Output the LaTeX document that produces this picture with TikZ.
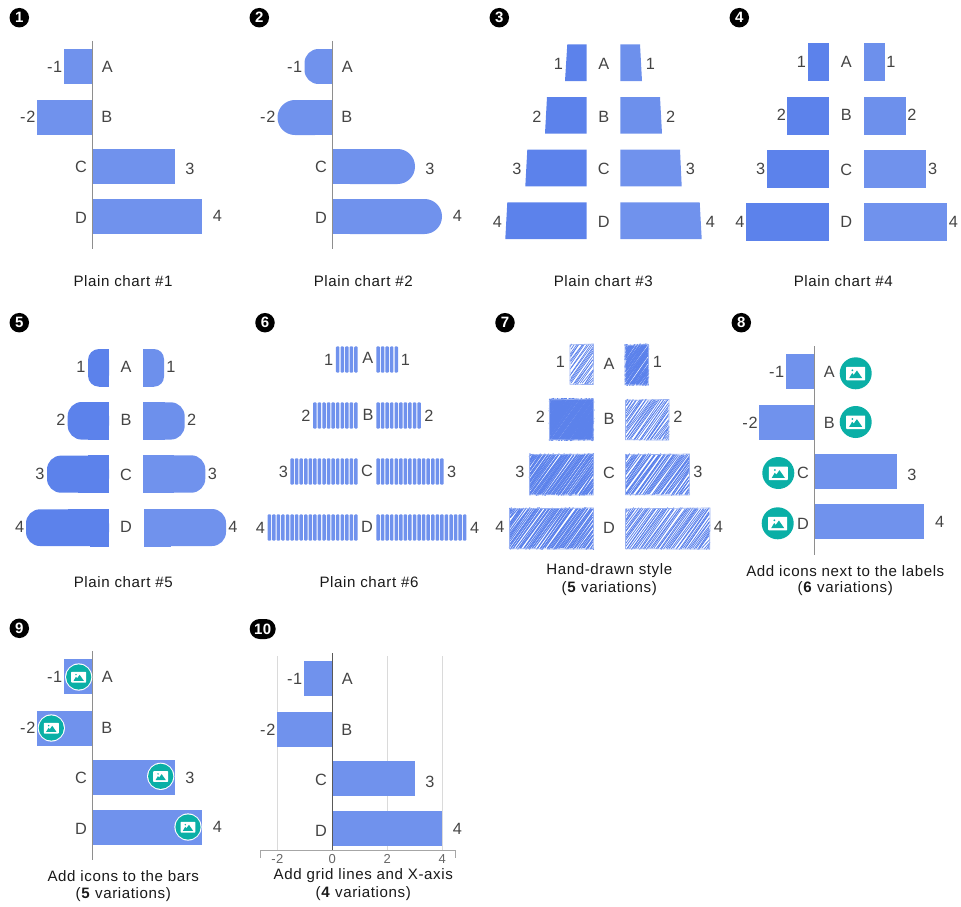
\documentclass[tikz,border=0pt]{standalone}
\usepackage{fontspec}
\setmainfont[LetterSpace=4]{Liberation Sans}
\definecolor{barblue}{HTML}{7092ED}
\definecolor{leftblue}{HTML}{5C82EB}
\definecolor{rightblue}{HTML}{6D90EC}
\definecolor{teal}{HTML}{0AAFA6}
\definecolor{labgray}{HTML}{444444}
\definecolor{axisgray}{HTML}{8E8E8E}
\definecolor{gridgray}{HTML}{DADADA}
\newcounter{nn}
\tikzset{
  lbl/.style={text=labgray,inner sep=0pt,font=\fontsize{16.3}{17}\selectfont},
  captext/.style={text=black!90,inner sep=0pt,font=\fontsize{15.1}{16}\selectfont},
  badge/.style={circle,fill=black,text=white,inner sep=0pt,minimum size=19.5pt,font=\fontsize{15}{15}\selectfont\bfseries},
  widebadge/.style={rounded corners=10pt,fill=black,text=white,inner sep=0pt,minimum width=26pt,minimum height=20pt,font=\fontsize{15}{15}\selectfont\bfseries},
  axisline/.style={draw=axisgray,line width=1pt},
  gridline/.style={draw=gridgray,line width=1pt},
  ticklab/.style={text=black!60,inner sep=0pt,font=\fontsize{13}{13}\selectfont}
}
\newcommand{\lab}[3]{\stepcounter{nn}\node[lbl] (t\thenn) at (#1,#2) {#3};}
\newcommand{\captxt}[3]{\stepcounter{nn}\node[captext] (c\thenn) at (#1,#2) {#3};}
\newcommand{\bdg}[3]{\stepcounter{nn}\node[badge] (b\thenn) at (#1,#2) {#3};}
\newcommand{\brect}[5][barblue]{\fill[#1] (#2,#3) rectangle (#4,#5);}
\newcommand{\roundbar}[6]{%
  \fill[#6,rounded corners=#5pt] (#1,#3) rectangle (#2,#4);
  \pgfmathsetmacro{\midx}{(#1+#2)/2}
  \fill[#6] (#1,#3) rectangle (\midx,#4);}
\newcommand{\stripes}[6]{% start edge, direction, count, y1, y2, colour
  \foreach \i in {1,...,#3}{
    \pgfmathsetmacro{\xa}{#1+#2*(\i-1)*4.56}
    \pgfmathsetmacro{\xb}{\xa+#2*3.5}
    \fill[#6,rounded corners=1pt] (\xa,#4) rectangle (\xb,#5);
  }}
\newcommand{\picon}[4]{% x y r white-border
  \begin{scope}[shift={(#1,#2)}]
    \pgfmathsetmacro{\iconscale}{#3/16}
    \ifdim #4pt>0pt \fill[white] (0,0) circle ({#3+#4}); \fi
    \fill[teal] (0,0) circle (#3);
    \begin{scope}[scale=\iconscale]
      \fill[white,rounded corners=0.6pt] (-9.5,-6.5) rectangle (9.5,7);
      \fill[teal] (-6.5,4.8) -- (-3.5,-0.3) -- (-2,1.6) -- (1.2,-2.8) -- (6.5,4.8) -- cycle;
      \fill[teal] (-3.4,-3) circle (1);
    \end{scope}
  \end{scope}}
\newcommand{\scribble}[6]{% x1 y1 x2 y2 spacing width
  \pgfmathsetmacro{\hh}{#4-#2}
  \pgfmathsetmacro{\dd}{\hh*0.72}
  \pgfmathtruncatemacro{\NN}{(#3-#1+\dd)/#5}
  \foreach \i in {0,...,\NN}{
    \pgfmathsetmacro{\tval}{#1-\dd+\i*#5+rand*#5*0.5}
    \pgfmathsetmacro{\sx}{max(\tval,#1)}
    \pgfmathsetmacro{\sy}{#4-(\sx-\tval)*\hh/\dd+rand*0.9}
    \pgfmathsetmacro{\ex}{min(\tval+\dd,#3)}
    \pgfmathsetmacro{\ey}{#2+(\tval+\dd-\ex)*\hh/\dd+rand*0.9}
    \pgfmathsetmacro{\jx}{\sx+rand*0.7}
    \pgfmathsetmacro{\kx}{\ex+rand*0.7}
    \draw[leftblue,line width=#6pt,line cap=round] (\jx,\sy) -- (\kx,\ey);
  }
  \draw[rightblue!70,line width=0.7pt] (#1-0.5,#2+0.4) -- (#3+0.6,#2-0.5) -- (#3+0.2,#4+0.6) -- (#1-0.6,#4+0.2) -- cycle;
}
\begin{document}
\begin{tikzpicture}[x=1pt,y=-1pt]
\useasboundingbox (0,0) rectangle (961,907);
\pgfmathsetseed{11}
% badges
\bdg{19.3}{17.7}{1}\bdg{259.3}{17.7}{2}\bdg{499.3}{17.7}{3}\bdg{739.3}{17.7}{4}
\bdg{19.3}{322.7}{5}\bdg{265}{322.7}{6}\bdg{505}{322.7}{7}\bdg{741.3}{322.7}{8}
\bdg{19.3}{628.3}{9}
\node[widebadge] (b10) at (262.7,629) {10};
% ---------- chart 1
\brect{64}{49}{92.5}{84}\brect{37}{100}{92.5}{135}\brect{92.5}{149}{175}{184}\brect{92.5}{199}{202}{234}
\draw[axisline] (92.5,41) -- (92.5,249);
\lab{54.7}{66.5}{-1}\lab{27.8}{117}{-2}\lab{107.3}{66.5}{A}\lab{106.7}{117}{B}\lab{81}{167}{C}\lab{81}{218}{D}\lab{190}{169}{3}\lab{217.5}{216}{4}
\captxt{123}{280.7}{Plain chart \#1}
% ---------- chart 2
\roundbar{332.5}{304.5}{49}{84}{14}{barblue}
\roundbar{332.5}{277.5}{100}{135}{17.4}{barblue}
\roundbar{332.5}{415}{149}{184}{17.4}{barblue}
\roundbar{332.5}{442}{199}{234}{17.4}{barblue}
\draw[axisline] (332.5,41) -- (332.5,249);
\lab{294.7}{66.5}{-1}\lab{267.8}{117}{-2}\lab{347.3}{66.5}{A}\lab{346.7}{117}{B}\lab{321}{167}{C}\lab{321}{218}{D}\lab{430}{169}{3}\lab{457.5}{216}{4}
\captxt{363.3}{280.7}{Plain chart \#2}
% ---------- chart 3
\fill[leftblue] (567.3,44.3) -- (586.7,44.3) -- (586.7,81) -- (565,81) -- cycle;
\fill[leftblue] (547,97) -- (586.7,97) -- (586.7,133.7) -- (545,133.7) -- cycle;
\fill[leftblue] (527.3,149.7) -- (586.7,149.7) -- (586.7,186.3) -- (525.3,186.3) -- cycle;
\fill[leftblue] (507.3,202.3) -- (586.7,202.3) -- (586.7,239) -- (505.3,239) -- cycle;
\fill[rightblue] (620.3,44.3) -- (640,44.3) -- (642,81) -- (620.3,81) -- cycle;
\fill[rightblue] (620.3,97) -- (660,97) -- (662,133.7) -- (620.3,133.7) -- cycle;
\fill[barblue] (620.3,149.7) -- (680,149.7) -- (681.7,186.3) -- (620.3,186.3) -- cycle;
\fill[barblue] (620.3,202.3) -- (699.7,202.3) -- (701.7,239) -- (620.3,239) -- cycle;
\lab{558.3}{64}{1}\lab{537}{116.5}{2}\lab{517}{169}{3}\lab{497.3}{221.7}{4}
\lab{603.7}{64}{A}\lab{603.7}{116.5}{B}\lab{603.7}{169}{C}\lab{603.7}{221.7}{D}
\lab{650.3}{64}{1}\lab{670.7}{116.5}{2}\lab{690.3}{169}{3}\lab{710.3}{221.7}{4}
\captxt{603.3}{280.7}{Plain chart \#3}
% ---------- chart 4
\brect[leftblue]{808}{43}{829}{81}\brect[leftblue]{787}{97}{829}{135}\brect[leftblue]{767}{150}{829}{188}\brect[leftblue]{746}{203}{829}{241}
\brect[rightblue]{864}{43}{885}{81}\brect[rightblue]{864}{97}{906}{135}\brect{864}{150}{926}{188}\brect{864}{203}{947}{241}
\lab{801.3}{62}{1}\lab{781.3}{115}{2}\lab{760.7}{168.7}{3}\lab{740}{222}{4}
\lab{846.3}{62}{A}\lab{846.3}{115}{B}\lab{846.3}{169.7}{C}\lab{846.3}{222}{D}
\lab{891}{62}{1}\lab{912}{115}{2}\lab{932.7}{168.7}{3}\lab{953.3}{222}{4}
\captxt{843.3}{280.7}{Plain chart \#4}
% ---------- chart 5
\roundbar{109}{88}{349}{386.7}{11}{leftblue}
\roundbar{109}{67.7}{402}{439.6}{14}{leftblue}
\roundbar{109}{47}{455.6}{492.7}{14}{leftblue}
\roundbar{109}{26}{509.3}{546}{14}{leftblue}
\brect[leftblue]{90}{402}{109}{440}\brect[leftblue]{88}{455}{109}{492.7}\brect[leftblue]{90}{509}{109}{546.7}
\roundbar{143}{164}{349}{386.7}{10}{rightblue}
\roundbar{143}{184.7}{402.3}{439.6}{14}{rightblue}
\roundbar{143}{205.3}{455.3}{492.7}{14}{barblue}
\roundbar{144}{226}{509}{546}{14}{barblue}
\brect[rightblue]{143}{402}{165}{440}\brect{143}{455}{164}{492.7}\brect{144}{509}{171}{546.7}
\lab{81}{367}{1}\lab{61}{420.3}{2}\lab{40}{474}{3}\lab{19.7}{526.7}{4}
\lab{126}{367}{A}\lab{126}{420.3}{B}\lab{126}{474.7}{C}\lab{126}{526.7}{D}
\lab{171}{367}{1}\lab{191.7}{420.3}{2}\lab{212.3}{474}{3}\lab{233}{526.7}{4}
\captxt{123.3}{581.7}{Plain chart \#5}
% ---------- chart 6
\stripes{357.7}{-1}{5}{346.3}{372.7}{barblue}
\stripes{357.7}{-1}{10}{402.3}{428.7}{barblue}
\stripes{357.7}{-1}{15}{458.3}{484.7}{barblue}
\stripes{357.7}{-1}{20}{514.3}{540.7}{barblue}
\stripes{376.3}{1}{5}{346.3}{372.7}{barblue}
\stripes{376.3}{1}{10}{402.3}{428.7}{barblue}
\stripes{376.3}{1}{15}{458.3}{484.7}{barblue}
\stripes{376.3}{1}{20}{514.3}{540.7}{barblue}
\lab{328.7}{360}{1}\lab{306}{416}{2}\lab{283.3}{471.7}{3}\lab{260.3}{527.7}{4}
\lab{367.7}{358.3}{A}\lab{368}{414.7}{B}\lab{367}{470.7}{C}\lab{367}{526.7}{D}
\lab{405.3}{360}{1}\lab{429}{415.7}{2}\lab{451.7}{471.7}{3}\lab{474.7}{527.7}{4}
\captxt{369}{581.7}{Plain chart \#6}
% ---------- chart 7
\scribble{570.5}{344.5}{593}{384}{1.8}{0.7}
\scribble{625.5}{345}{648}{384.5}{1.1}{1.4}
\scribble{550}{399.5}{593}{439.5}{0.9}{1.7}
\scribble{626}{400}{668.5}{439.5}{1.6}{0.75}
\scribble{530}{454.5}{593}{494.5}{1.35}{1.2}
\scribble{626}{454.5}{689}{494.5}{1.5}{0.9}
\scribble{510}{508.5}{593}{548.5}{1.45}{1.05}
\scribble{626}{508.5}{709.5}{548.5}{1.7}{0.8}
\lab{560.3}{362.3}{1}\lab{540.3}{417}{2}\lab{520}{471.7}{3}\lab{500}{526.7}{4}
\lab{609}{364}{A}\lab{609}{418.7}{B}\lab{609}{473.3}{C}\lab{609}{528}{D}
\lab{657.3}{362.3}{1}\lab{678}{417}{2}\lab{698}{471.7}{3}\lab{718.3}{526.7}{4}
\captxt{609.3}{571}{Hand-drawn style}
\captxt{609.3}{589}{(\textbf{5} variations)}
% ---------- chart 8
\brect{786}{354}{814.3}{389}\brect{759}{405}{814.3}{440}\brect{814.3}{454}{897}{489}\brect{814.3}{504}{924}{539}
\draw[axisline] (814.3,346.3) -- (814.3,555);
\lab{776.7}{372}{-1}\lab{750}{422.7}{-2}\lab{829.3}{372}{A}\lab{829.3}{422.7}{B}\lab{803}{473}{C}\lab{803}{524}{D}\lab{912}{475}{3}\lab{939.7}{522}{4}
\picon{855.7}{373.3}{16}{0}\picon{855.7}{422}{16}{0}\picon{778.3}{473}{16}{0}\picon{777.7}{523.3}{16}{0}
\captxt{845.3}{571}{Add icons next to the labels}
\captxt{845.3}{589}{(\textbf{6} variations)}
% ---------- chart 9
\brect{64}{659}{92.5}{694}\brect{37}{711}{92.5}{746}\brect{92.5}{760}{175}{795}\brect{92.5}{810}{202}{845}
\draw[axisline] (92.5,651.3) -- (92.5,860);
\picon{78.7}{677}{12.6}{1}\picon{51.3}{728}{12.6}{1}\picon{160.7}{776.3}{12.6}{1}\picon{188}{827}{12.6}{1}
\lab{54.7}{677.3}{-1}\lab{27.8}{728}{-2}\lab{107.3}{677.3}{A}\lab{106.7}{728}{B}\lab{81}{778.3}{C}\lab{81}{829.3}{D}\lab{190}{778.3}{3}\lab{217.5}{827.3}{4}
\captxt{123.3}{876.3}{Add icons to the bars}
\captxt{123.3}{894.3}{(\textbf{5} variations)}
% ---------- chart 10
\draw[gridline] (277.3,656) -- (277.3,850.7);
\draw[gridline] (387.3,656) -- (387.3,850.7);
\draw[gridline] (442.3,656) -- (442.3,850.7);
\brect{304}{661}{332.3}{696}\brect{277}{712}{332.3}{747}\brect{332.3}{761}{415}{796}\brect{332.3}{811}{442}{846}
\draw[draw=black!65,line width=1pt] (332.3,653.3) -- (332.3,850.7);
\draw[draw=black!35,line width=1pt] (260.3,857.7) -- (260.3,850.7) -- (455.3,850.7) -- (455.3,857.7);
\lab{294.7}{679}{-1}\lab{267.8}{730}{-2}\lab{347.3}{679}{A}\lab{346.7}{730}{B}\lab{321}{780}{C}\lab{321}{831}{D}\lab{430}{782}{3}\lab{457.5}{829}{4}
\node[ticklab] (tk1) at (277.3,858.9) {-2};
\node[ticklab] (tk2) at (332.3,858.9) {0};
\node[ticklab] (tk3) at (387.3,858.9) {2};
\node[ticklab] (tk4) at (442.3,858.9) {4};
\captxt{363.3}{875.7}{Add grid lines and X-axis}
\captxt{363.3}{893.7}{(\textbf{4} variations)}
\end{tikzpicture}
\end{document}
